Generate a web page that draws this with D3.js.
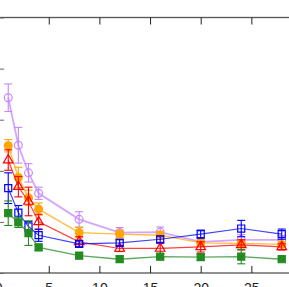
<!DOCTYPE html>
<html>
<head>
<meta charset="utf-8">
<script src="https://d3js.org/d3.v7.min.js"></script>
<style>
body { margin: 0; background: #fff; }
svg { display: block; }
</style>
</head>
<body>
<svg id="chart" width="289" height="287"></svg>
<script>
// x positions shared by every series
const xs = [1, 2, 3, 4, 8, 12, 16, 20, 24, 28];
const xTicks = [0, 5, 10, 15, 20, 25, 30];
const yTicks = [0, 1, 2, 3, 4, 5];

const purple = [3.43, 2.50, 1.96, 1.56, 1.05, 0.79, 0.80, 0.61, 0.65, 0.65];
const purpleErr = [0.27, 0.35, 0.18, 0.12, 0.15, 0.10, 0.10, 0.08, 0.10, 0.08];
const orange = [2.49, 1.87, 1.47, 1.25, 0.79, 0.76, 0.74, 0.59, 0.58, 0.56];
const orangeErr = [0.12, 0.20, 0.15, 0.12, 0.10, 0.08, 0.08, 0.06, 0.06, 0.05];
const red = [2.21, 1.69, 1.40, 1.00, 0.61, 0.48, 0.48, 0.51, 0.55, 0.51];
const redErr = [0.20, 0.20, 0.28, 0.15, 0.10, 0.06, 0.10, 0.10, 0.10, 0.06];
const blue = [1.66, 1.18, 0.91, 0.74, 0.57, 0.59, 0.66, 0.76, 0.87, 0.76];
const blueErr = [0.30, 0.14, 0.10, 0.12, 0.06, 0.06, 0.06, 0.08, 0.16, 0.10];
const green = [1.17, 0.99, 0.78, 0.50, 0.34, 0.27, 0.32, 0.31, 0.32, 0.27];
const greenErr = [0.24, 0.10, 0.24, 0.06, 0.06, 0.06, 0.06, 0.06, 0.14, 0.04];

const series = [
  {vals: purple, err: purpleErr, color: "#c488ff", shape: "circle", fill: false, lw: 1.8},
  {vals: orange, err: orangeErr, color: "#ffa500", shape: "circle", fill: true, lw: 1.4},
  {vals: red, err: redErr, color: "#ff0000", shape: "triangle", fill: false, lw: 1.2},
  {vals: blue, err: blueErr, color: "#0000ff", shape: "square", fill: false, lw: 1.1},
  {vals: green, err: greenErr, color: "#228b22", shape: "square", fill: true, lw: 1.4}
];

const svg = d3.select("#chart");

const x_scale = d3.scaleLinear().domain([0, 30]).range([-1.9, 302]);
const y_scale = d3.scaleLinear().domain([0, 5]).range([273, 17.5]);

// frame
svg.append("rect")
  .attr("x", x_scale(0)).attr("y", y_scale(5))
  .attr("width", x_scale(30) - x_scale(0))
  .attr("height", y_scale(0) - y_scale(5))
  .attr("fill", "none").attr("stroke", "#555").attr("stroke-width", 1.3);

// inward ticks
svg.append("g")
  .attr("transform", "translate(0," + y_scale(0) + ")")
  .call(d3.axisBottom(x_scale).tickValues(xTicks).tickSize(-7).tickPadding(10))
  .call(g => g.select(".domain").remove())
  .call(g => g.selectAll("line").attr("stroke", "#222"))
  .call(g => g.selectAll("text").attr("font-family", "Liberation Sans, Arial, sans-serif").attr("font-size", 14).attr("fill", "#222"));

svg.append("g")
  .attr("transform", "translate(0," + y_scale(5) + ")")
  .call(d3.axisTop(x_scale).tickValues(xTicks).tickSize(-7).tickFormat(""))
  .call(g => g.select(".domain").remove())
  .call(g => g.selectAll("line").attr("stroke", "#222"));

svg.append("g")
  .attr("transform", "translate(" + x_scale(0) + ",0)")
  .call(d3.axisLeft(y_scale).tickValues(yTicks).tickSize(-6).tickFormat(""))
  .call(g => g.select(".domain").remove())
  .call(g => g.selectAll("line").attr("stroke", "#666"));

const line = d3.line()
  .x(function(d) { return x_scale(d[0]); })
  .y(function(d) { return y_scale(d[1]); });

series.forEach(function(s) {
  const pts = xs.map(function(xv, i) { return [xv, s.vals[i], s.err[i]]; });
  const g = svg.append("g");

  g.append("path")
    .datum(pts)
    .attr("d", line)
    .attr("fill", "none")
    .attr("stroke", s.color)
    .attr("stroke-opacity", 0.75)
    .attr("stroke-width", s.lw);

  // error bars
  const eb = g.selectAll("g.eb").data(pts).enter().append("g").attr("class", "eb")
    .attr("stroke", s.color).attr("stroke-width", 1.1);
  eb.append("line")
    .attr("x1", function(d) { return x_scale(d[0]); })
    .attr("x2", function(d) { return x_scale(d[0]); })
    .attr("y1", function(d) { return y_scale(d[1] - d[2]); })
    .attr("y2", function(d) { return y_scale(d[1] + d[2]); });
  eb.append("line")
    .attr("x1", function(d) { return x_scale(d[0]) - 4; })
    .attr("x2", function(d) { return x_scale(d[0]) + 4; })
    .attr("y1", function(d) { return y_scale(d[1] + d[2]); })
    .attr("y2", function(d) { return y_scale(d[1] + d[2]); });
  eb.append("line")
    .attr("x1", function(d) { return x_scale(d[0]) - 4; })
    .attr("x2", function(d) { return x_scale(d[0]) + 4; })
    .attr("y1", function(d) { return y_scale(d[1] - d[2]); })
    .attr("y2", function(d) { return y_scale(d[1] - d[2]); });

  // markers
  const sym = s.shape === "circle" ? d3.symbolCircle : (s.shape === "square" ? d3.symbolSquare : d3.symbolTriangle);
  const size = s.shape === "circle" ? 48 : (s.shape === "square" ? 50 : 40);
  g.selectAll("path.pt").data(pts).enter().append("path")
    .attr("class", "pt")
    .attr("d", d3.symbol().type(sym).size(size))
    .attr("transform", function(d) { return "translate(" + x_scale(d[0]) + "," + y_scale(d[1]) + ")"; })
    .attr("fill", s.fill ? s.color : "none")
    .attr("stroke", s.color)
    .attr("stroke-width", 1.2);
});
</script>
</body>
</html>
